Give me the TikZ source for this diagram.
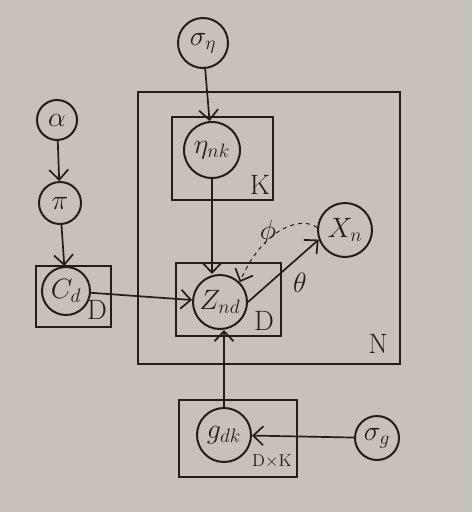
\documentclass[tikz,border=0pt]{standalone}
\usepackage{graphicx}
\usetikzlibrary{arrows.meta}
\definecolor{paper}{RGB}{200,193,185}
\definecolor{ink}{RGB}{40,28,25}
\newcommand{\bigtxt}[1]{\scalebox{1.35}{\huge #1}}
\begin{document}
\begin{tikzpicture}[x=1pt,y=-1pt,
  every node/.style={text=ink},
  var/.style={circle,draw=ink,line width=2pt,inner sep=0pt},
  plate/.style={draw=ink,line width=1.8pt},
  arr/.style={draw=ink,line width=1.7pt,-{Straight Barb[length=10pt,width=19pt,line width=1.7pt]}},
  darr/.style={arr,line width=1pt,dash pattern=on 4pt off 4pt}]
\fill[paper] (0,0) rectangle (472,512);
\useasboundingbox (0,0) rectangle (472,512);
% plates
\draw[plate] (138,92) rectangle (400,364);
\draw[plate] (172,117) rectangle (273,200);
\draw[plate] (176,263) rectangle (281,336);
\draw[plate] (36,266) rectangle (111,327);
\draw[plate] (179,400) rectangle (297,477);
% variables
\node[var,minimum size=50pt] (seta) at (203,43) {\bigtxt{$\sigma_\eta$}};
\node[var,minimum size=56pt] (eta) at (212,150) {\bigtxt{$\eta_{nk}$}};
\node[var,minimum size=40pt] (alpha) at (57,120) {\bigtxt{$\alpha$}};
\node[var,minimum size=42pt] (pi) at (60,203) {\bigtxt{$\pi$}};
\node[var,minimum size=48pt] (c) at (66,291) {\bigtxt{$C_d$}};
\node[var,minimum size=54pt] (z) at (220,302) {\bigtxt{$Z_{nd}$}};
\node[var,minimum size=54pt] (x) at (345,230) {\bigtxt{$X_n$}};
\node[var,minimum size=54pt] (g) at (224,435) {\bigtxt{$g_{dk}$}};
\node[var,minimum size=44pt] (sg) at (377,438) {\bigtxt{$\sigma_g$}};
% plate labels
\node (lK) at (260,185) {\bigtxt{K}};
\node (lD1) at (264,321) {\bigtxt{D}};
\node (lD2) at (97,310) {\bigtxt{D}};
\node (lN) at (378,344) {\bigtxt{N}};
\node (lDK) at (272,461) {\scalebox{1.2}{\Large D$\times$K}};
% edge labels
\node (lth) at (300,283) {\bigtxt{$\theta$}};
\node (lph) at (268,232) {\bigtxt{$\phi$}};
% edges
\draw[arr] (seta) -- (eta);
\draw[arr] (eta.south) -- (eta.south |- z.north);
\draw[arr] (alpha) -- (pi);
\draw[arr] (pi) -- (c);
\draw[arr] (c) -- (z);
\draw[arr] (z.east) -- (x.200);
\draw[darr] (x.175) .. controls (300,215) and (262,230) .. (z.north east);
\draw[arr] (g.north) -- (g.north |- z.south);
\draw[arr] (sg) -- (g);
\end{tikzpicture}
\end{document}
